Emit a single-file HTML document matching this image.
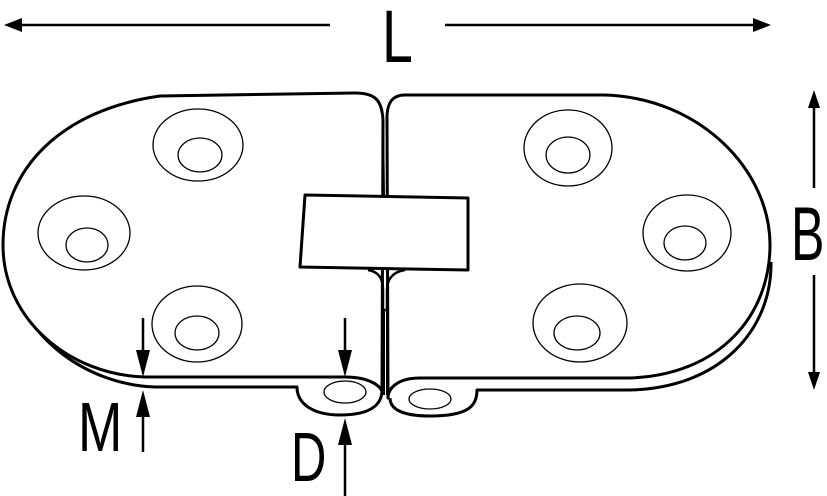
<!DOCTYPE html>
<html><head><style>html,body{margin:0;padding:0;background:#fff;}svg{display:block}</style></head><body>
<svg width="827" height="496" viewBox="0 0 827 496" xmlns="http://www.w3.org/2000/svg">
<g fill="none" stroke="#000" stroke-linejoin="round">
<!-- left plate -->
<path d="M8,265 C20,340 90,385 155,387 L297,387 C297,405 315,415 340,415 C370,415 382,405 382,390" stroke-width="3" fill="#fff"/>
<path d="M160,96 C60,110 3,170 3,245 C3,320 70,375 145,377 L345,377 C372,377 382,388 382,392 L383,120 C382,100 375,93 355,93 Z" stroke-width="3" fill="#fff"/>
<!-- right plate -->
<path d="M771,262 C772,330 720,388 630,390 L477,390 C477,405 470,416 430,416 C400,416 390,408 390,398" stroke-width="3" fill="#fff"/>
<path d="M605,95 C700,98 770,170 770,245 C770,315 720,375 630,378 L420,378 C398,378 388,388 388,398 L387,118 C387,102 393,95 405,95 Z" stroke-width="3" fill="#fff"/>
<!-- seam -->
<path d="M383,120 L384,196 M387,118 L387,197" stroke-width="2"/>
<path d="M368,270 C380,272 383,280 383,290 L383,310 L387,310 L387,290 C387,280 392,272 405,270" stroke-width="2.5"/>
<path d="M384,310 L384,395 M387,310 L387,395" stroke-width="2"/>
<!-- tab -->
<polygon points="305,195 468,198 468,270 300,267" stroke-width="3" fill="#fff"/>
<!-- eyes -->
<ellipse cx="345" cy="392" rx="21" ry="11" stroke-width="1.3"/>
<ellipse cx="430" cy="399" rx="21" ry="10" stroke-width="1.3"/>
<!-- holes -->
<g stroke-width="1.3">
<ellipse cx="198" cy="145" rx="45" ry="36"/><ellipse cx="200" cy="155" rx="22" ry="17"/>
<ellipse cx="84" cy="233" rx="46" ry="37"/><ellipse cx="87" cy="245" rx="21" ry="17"/>
<ellipse cx="197" cy="324" rx="45" ry="38"/><ellipse cx="197" cy="333" rx="22" ry="17"/>
<ellipse cx="568" cy="148" rx="44" ry="38"/><ellipse cx="568" cy="155" rx="22" ry="18"/>
<ellipse cx="687" cy="233" rx="44" ry="38"/><ellipse cx="685" cy="243" rx="21" ry="17"/>
<ellipse cx="580" cy="323" rx="47" ry="39"/><ellipse cx="577" cy="333" rx="23" ry="17"/>
</g>
<!-- dimension lines -->
<g stroke-width="2.5">
<path d="M20,25 L330,25 M445,25 L755,25"/>
<path d="M814,105 L814,188 M814,275 L814,375"/>
<path d="M143,318 L143,350 M143,415 L143,452"/>
<path d="M345,318 L345,352 M345,440 L345,496"/>
</g>
</g>
<g fill="#000">
<polygon points="4,25 22,18 22,32"/>
<polygon points="771,25 753,18 753,32"/>
<polygon points="814,90 808,108 820,108"/>
<polygon points="814,390 808,372 820,372"/>
<polygon points="143,377 136,350 150,350"/>
<polygon points="143,390 136,417 150,417"/>
<polygon points="345,377 338,350 352,350"/>
<polygon points="345,418 338,445 352,445"/>
</g>
<g font-family="Liberation Sans, sans-serif" fill="#000">
<text x="0" y="0" font-size="74" transform="translate(382,62) scale(0.75,1)">L</text>
<text x="0" y="0" font-size="76" transform="translate(791,260) scale(0.66,1)">B</text>
<text x="0" y="0" font-size="70" transform="translate(78,451) scale(0.76,1)">M</text>
<text x="0" y="0" font-size="70" transform="translate(291,481) scale(0.7,1)">D</text>
</g>
</svg>
</body></html>
